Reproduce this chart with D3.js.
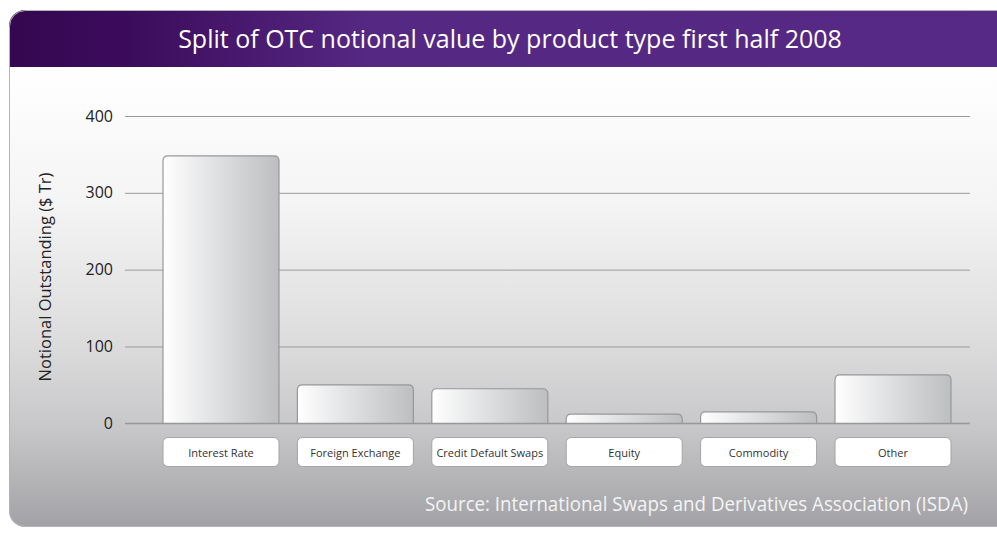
<!DOCTYPE html>
<html>
<head>
<meta charset="utf-8">
<script src="https://cdn.jsdelivr.net/npm/d3@7"></script>
<style>
  body { margin: 0; background: #fff; }
  svg { display: block; font-family: "Open Sans", "DejaVu Sans", sans-serif; }
</style>
</head>
<body>
<svg id="chart" width="997" height="533"></svg>
<script>
// chart data
const categories = ["Interest Rate", "Foreign Exchange", "Credit Default Swaps", "Equity", "Commodity", "Other"];
const values = [348, 50, 45, 12, 15, 63];
const yTicks = [0, 100, 200, 300, 400];
const title = "Split of OTC notional value by product type first half 2008";
const yLabel = "Notional Outstanding ($ Tr)";
const source = "Source: International Swaps and Derivatives Association (ISDA)";

const svg = d3.select('#chart');
const defs = svg.append('defs');

// gradients
let hg = defs.append('linearGradient').attr('id', 'head').attr('x1', 0).attr('x2', 1).attr('y1', 0).attr('y2', 0);
hg.append('stop').attr('offset', '0').attr('stop-color', '#340750');
hg.append('stop').attr('offset', '0.12').attr('stop-color', '#3c0c5c');
hg.append('stop').attr('offset', '0.35').attr('stop-color', '#552883');
hg.append('stop').attr('offset', '1').attr('stop-color', '#552985');

let bg = defs.append('linearGradient').attr('id', 'body').attr('x1', 0).attr('x2', 0).attr('y1', 0).attr('y2', 1);
bg.append('stop').attr('offset', '0').attr('stop-color', '#ffffff');
bg.append('stop').attr('offset', '0.3').attr('stop-color', '#f4f4f4');
bg.append('stop').attr('offset', '0.6').attr('stop-color', '#dcdcdd');
bg.append('stop').attr('offset', '0.78').attr('stop-color', '#c8c8ca');
bg.append('stop').attr('offset', '1').attr('stop-color', '#a2a2a6');

let barg = defs.append('linearGradient').attr('id', 'bar').attr('x1', 0).attr('x2', 1).attr('y1', 0).attr('y2', 0);
barg.append('stop').attr('offset', '0').attr('stop-color', '#ffffff');
barg.append('stop').attr('offset', '0.45').attr('stop-color', '#e0e1e3');
barg.append('stop').attr('offset', '1').attr('stop-color', '#bdbec0');

defs.append('clipPath').attr('id', 'panelClip')
  .append('rect').attr('x', 9).attr('y', 10).attr('width', 1030).attr('height', 517).attr('rx', 16);

// panel
let panel = svg.append('g').attr('clip-path', 'url(#panelClip)');
panel.append('rect').attr('x', 9).attr('y', 67).attr('width', 1030).attr('height', 460).attr('fill', 'url(#body)');
panel.append('rect').attr('x', 9).attr('y', 10).attr('width', 1030).attr('height', 57).attr('fill', 'url(#head)');
svg.append('rect').attr('x', 9.5).attr('y', 10.5).attr('width', 1030).attr('height', 516).attr('rx', 16)
  .attr('fill', 'none').attr('stroke', '#b4b4b6').attr('stroke-width', 1);

// scales
let x = d3.scaleBand().domain(categories).range([163, 951]).paddingInner(0.137).paddingOuter(0);
let y = d3.scaleLinear().domain([0, 400]).range([423.3, 116]);

// grid + y axis
let yAxis = d3.axisLeft(y).tickValues(yTicks).tickSize(-(970 - 125)).tickPadding(12);
let gy = svg.append('g').attr('transform', 'translate(125,0)').call(yAxis)
  .attr('font-family', '"Open Sans", sans-serif');
gy.select('.domain').remove();
gy.selectAll('.tick line').attr('stroke', '#9a9a9c').attr('stroke-width', 1);
gy.selectAll('.tick text').attr('fill', '#222').style('font-size', '16px');

// bars with rounded top corners
function barPath(d, i) {
  let x0 = x(categories[i]), w = x.bandwidth();
  let y0 = y(0), y1 = y(d), r = Math.min(5, (y0 - y1));
  return 'M' + x0 + ',' + y0 + 'V' + (y1 + r) + 'Q' + x0 + ',' + y1 + ' ' + (x0 + r) + ',' + y1
    + 'H' + (x0 + w - r) + 'Q' + (x0 + w) + ',' + y1 + ' ' + (x0 + w) + ',' + (y1 + r) + 'V' + y0;
}
svg.append('g').selectAll('path').data(values).enter().append('path')
  .attr('d', barPath)
  .attr('fill', 'url(#bar)')
  .attr('stroke', '#97989a')
  .attr('stroke-width', 1.2);

// baseline on top of bars
svg.append('line').attr('x1', 125).attr('x2', 970).attr('y1', y(0)).attr('y2', y(0))
  .attr('stroke', '#97989a').attr('stroke-width', 1.2);

// category label boxes
let lab = svg.append('g').selectAll('g').data(categories).enter().append('g')
  .attr('transform', d => 'translate(' + x(d) + ',437.5)');
lab.append('rect').attr('width', x.bandwidth()).attr('height', 29).attr('rx', 5)
  .attr('fill', '#fff').attr('stroke', '#a4a4a6').attr('stroke-width', 1);
lab.append('text').attr('x', x.bandwidth() / 2).attr('y', 19).attr('text-anchor', 'middle')
  .attr('fill', '#333').style('font-size', '11px').text(d => d);

// y label
let yl = svg.append('text').attr('transform', 'translate(51,277) rotate(-90)').attr('text-anchor', 'middle')
  .attr('fill', '#222').style('font-size', '16.5px').text(yLabel);
if (yl.node().getComputedTextLength() > 225) yl.attr('textLength', 225).attr('lengthAdjust', 'spacingAndGlyphs');

// title
let t = svg.append('text').attr('x', 510).attr('y', 48).attr('text-anchor', 'middle')
  .attr('fill', '#fff').style('font-size', '25px').text(title);
if (t.node().getComputedTextLength() > 704) t.attr('textLength', 704).attr('lengthAdjust', 'spacingAndGlyphs');

// source
let s = svg.append('text').attr('x', 968).attr('y', 511).attr('text-anchor', 'end')
  .attr('fill', '#f4f4f4').style('font-size', '19.5px').text(source);
if (s.node().getComputedTextLength() > 543) s.attr('textLength', 543).attr('lengthAdjust', 'spacingAndGlyphs');
</script>
</body>
</html>
